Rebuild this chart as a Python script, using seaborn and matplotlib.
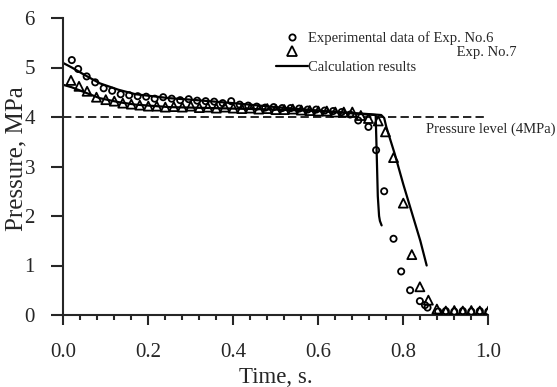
import numpy as np
import pandas as pd
import matplotlib
matplotlib.use('Agg')
import matplotlib.pyplot as plt
from matplotlib.lines import Line2D
from matplotlib.ticker import MultipleLocator
import seaborn as sns

# ── data ────────────────────────────────────────────────────
exp6_t = [0.020, 0.035, 0.055, 0.075, 0.095, 0.115, 0.135, 0.155, 0.175, 0.195,
          0.215, 0.235, 0.255, 0.275, 0.295, 0.315, 0.335, 0.355, 0.375, 0.395,
          0.415, 0.435, 0.455, 0.475, 0.495, 0.515, 0.535, 0.555, 0.575, 0.595,
          0.615, 0.635, 0.655, 0.675, 0.694, 0.718, 0.736, 0.755, 0.777, 0.795,
          0.816, 0.839, 0.851, 0.857, 0.882, 0.900, 0.920, 0.940, 0.960, 0.980, 1.000]
exp6_p = [5.15, 4.97, 4.82, 4.70, 4.58, 4.53, 4.46, 4.44, 4.42, 4.41,
          4.37, 4.40, 4.37, 4.34, 4.36, 4.33, 4.32, 4.31, 4.28, 4.32,
          4.25, 4.23, 4.21, 4.19, 4.20, 4.18, 4.18, 4.17, 4.15, 4.15,
          4.13, 4.12, 4.10, 4.05, 3.93, 3.80, 3.33, 2.50, 1.54, 0.88,
          0.50, 0.28, 0.20, 0.15, 0.07, 0.08, 0.07, 0.08, 0.07, 0.08, 0.07]

exp7_t = [0.018, 0.037, 0.056, 0.078, 0.100, 0.120, 0.140, 0.160, 0.180, 0.200,
          0.220, 0.240, 0.260, 0.280, 0.300, 0.320, 0.340, 0.360, 0.380, 0.400,
          0.420, 0.440, 0.460, 0.480, 0.500, 0.520, 0.540, 0.560, 0.580, 0.600,
          0.620, 0.640, 0.660, 0.680, 0.700, 0.718, 0.741, 0.758, 0.777, 0.800,
          0.820, 0.839, 0.859, 0.879, 0.900, 0.920, 0.940, 0.960, 0.980, 1.000]
exp7_p = [4.74, 4.62, 4.52, 4.40, 4.35, 4.32, 4.28, 4.26, 4.24, 4.22,
          4.22, 4.20, 4.21, 4.20, 4.22, 4.19, 4.20, 4.18, 4.20, 4.18,
          4.17, 4.18, 4.16, 4.17, 4.15, 4.15, 4.16, 4.14, 4.13, 4.12,
          4.12, 4.10, 4.10, 4.10, 4.03, 3.97, 3.92, 3.70, 3.18, 2.26,
          1.22, 0.57, 0.30, 0.12, 0.08, 0.09, 0.08, 0.09, 0.08, 0.08]

calc6_t = [0.0, 0.02, 0.05, 0.086, 0.13, 0.17, 0.25, 0.30, 0.40, 0.50, 0.60,
           0.70, 0.735, 0.737, 0.740, 0.743, 0.745, 0.749]
calc6_p = [5.09, 5.00, 4.85, 4.68, 4.55, 4.46, 4.38, 4.35, 4.28, 4.20, 4.13,
           4.06, 4.04, 3.40, 2.40, 2.00, 1.90, 1.81]

calc7_t = [0.0, 0.02, 0.05, 0.086, 0.13, 0.17, 0.25, 0.35, 0.50, 0.60, 0.70,
           0.748, 0.755, 0.760, 0.780, 0.800, 0.820, 0.840, 0.855]
calc7_p = [4.65, 4.60, 4.50, 4.38, 4.30, 4.25, 4.20, 4.18, 4.15, 4.12, 4.07,
           4.04, 3.98, 3.80, 3.25, 2.64, 2.07, 1.50, 1.00]

level_t = [0.0, 1.0]
level_p = [4.0, 4.0]

x_ticks = [0.0, 0.2, 0.4, 0.6, 0.8, 1.0]
y_ticks = [0, 1, 2, 3, 4, 5, 6]

# ── style ────────────────────────────────────────────────────
sns.set_style("ticks")
plt.rcParams['font.family'] = ['Liberation Serif', 'DejaVu Serif']
plt.rcParams['axes.linewidth'] = 1.5

W, H = 557, 387
fig = plt.figure(figsize=(W / 100, H / 100), dpi=100)
ax = fig.add_axes([63.3 / W, 1 - 315 / H, 425 / W, 297 / H])

# pressure level line
sns.lineplot(x=level_t, y=level_p, ax=ax, color='black', lw=1.2,
             linestyle=(0, (5, 2.5)), estimator=None, sort=False)

# calculation results
for t, p in [(calc6_t, calc6_p), (calc7_t, calc7_p)]:
    sns.lineplot(x=t, y=p, ax=ax, color='black', lw=1.6,
                 estimator=None, sort=False)

# experimental points
sns.scatterplot(x=exp6_t, y=exp6_p, ax=ax, marker='o', s=20, color='black',
                facecolor='none', edgecolor='black', linewidth=1.3, zorder=3)
sns.scatterplot(x=exp7_t, y=exp7_p, ax=ax, marker='^', s=42, color='black',
                facecolor='none', edgecolor='black', linewidth=1.3, zorder=3)

ax.set_xlim(0, 1.0)
ax.set_ylim(0, 6)
ax.set_xticks(x_ticks)
ax.set_xticklabels([f'{v:.1f}' for v in x_ticks])
ax.set_yticks(y_ticks)
ax.xaxis.set_minor_locator(MultipleLocator(0.04))
sns.despine(ax=ax)

ax.tick_params(axis='x', which='major', length=7.2, width=1.5, pad=13, labelsize=15)
ax.tick_params(axis='x', which='minor', length=3.6, width=1.5)
ax.tick_params(axis='y', which='major', length=8.4, width=1.5, pad=12, labelsize=15)

ax.set_xlabel('Time, s.', fontsize=16.5, va='baseline')
ax.xaxis.set_label_coords(0.5, (315 - 383) / 297)
ax.set_ylabel('Pressure, MPa', fontsize=18, va='center')
ax.yaxis.set_label_coords((16.5 - 63.3) / 425, (315 - 159) / 297)

ax.text(0.853, 3.75, 'Pressure level (4MPa)', fontsize=10.5, va='center',
        ha='left', clip_on=False)

# legend
handles = [
    Line2D([], [], marker='o', ls='none', mfc='none', mec='black', ms=4.5, mew=1.3),
    Line2D([], [], marker='^', ls='none', mfc='none', mec='black', ms=6.5, mew=1.3),
    Line2D([], [], color='black', lw=1.6),
]
labels = ['Experimental data of Exp. No.6',
          ' ' * 41 + 'Exp. No.7',
          'Calculation results']
leg = ax.legend(handles, labels, loc='upper left',
                bbox_to_anchor=(276 / W, 1 - 31 / H), bbox_transform=fig.transFigure,
                frameon=False, fontsize=10.5, borderpad=0, borderaxespad=0,
                handlelength=2.2, handletextpad=0, labelspacing=0.1)

fig.savefig('out.png', dpi=100)
